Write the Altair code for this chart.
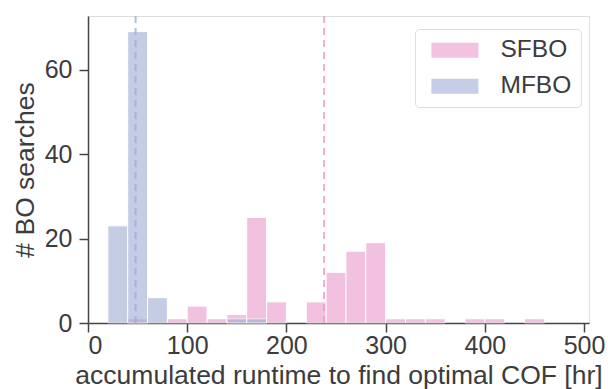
import altair as alt
import pandas as pd

bin_starts = list(range(20, 500, 20))
sfbo_counts = [0, 1, 0, 1, 4, 1, 2, 25, 5, 0, 5, 12, 17, 19, 1, 1, 1, 0, 1, 1, 0, 1, 0, 0]
mfbo_counts = [23, 69, 6, 0, 0, 0, 1, 1, 0, 0, 0, 0, 0, 0, 0, 0, 0, 0, 0, 0, 0, 0, 0, 0]
series_names = ["SFBO", "MFBO"]
series_colors = ["#e999cb", "#a0acd5"]
median_values = [238, 48]
bin_width = 20

rows = []
for name, counts in zip(series_names, [sfbo_counts, mfbo_counts]):
    for s, c in zip(bin_starts, counts):
        if c > 0:
            rows.append({"series": name, "start": s, "end": s + bin_width, "count": c, "base": 0})
df = pd.DataFrame(rows)
med_df = pd.DataFrame({"series": series_names, "median": median_values})

FONT = "Liberation Sans"
TXT = "#3c3c3c"

xscale = alt.Scale(domain=[0, 505], nice=False, zero=False)
yscale = alt.Scale(domain=[0, 72.7], nice=False)
cscale = alt.Scale(domain=series_names, range=series_colors)

bars = alt.Chart(df).mark_bar(stroke="white", strokeWidth=1, opacity=0.6).encode(
    x=alt.X("start:Q", scale=xscale,
            axis=alt.Axis(values=[0, 100, 200, 300, 400, 500], title="accumulated runtime to find optimal COF [hr]",
                          grid=False, tickSize=9, tickWidth=1.5, domainWidth=1.5,
                          domainColor="#444", tickColor="#444", labelColor=TXT, titleColor=TXT,
                          labelFont=FONT, titleFont=FONT, labelFontSize=25, titleFontSize=26.5,
                          titleFontWeight="normal", labelPadding=1, titlePadding=4)),
    x2="end:Q",
    y=alt.Y("count:Q", scale=yscale,
            axis=alt.Axis(values=[0, 20, 40, 60], title="# BO searches", grid=False,
                          tickSize=9, tickWidth=1.5, domainWidth=1.5,
                          domainColor="#444", tickColor="#444", labelColor=TXT, titleColor=TXT,
                          labelFont=FONT, titleFont=FONT, labelFontSize=25, titleFontSize=26.5,
                          titleFontWeight="normal", labelPadding=7, titlePadding=5)),
    y2="base:Q",
    color=alt.Color("series:N", scale=cscale, sort=series_names,
                    legend=alt.Legend(title=None, orient="none", legendX=327, legendY=13,
                                      symbolType="M-0.617,-0.96L5.383,-0.96L5.383,0.96L-0.617,0.96Z",
                                      symbolSize=245, symbolStrokeWidth=0, symbolOpacity=0.6,
                                      labelFont=FONT, labelFontSize=24.5, labelColor=TXT,
                                      labelExpr="datum.label + '\u00a0\u00a0'",
                                      labelOffset=52, padding=9, rowPadding=11,
                                      strokeColor="#dddddd", fillColor="white", cornerRadius=4)),
    order=alt.Order("series:N", sort="descending"),
)

rules = alt.Chart(med_df).mark_rule(strokeDash=[7, 5], strokeWidth=2, opacity=0.8).encode(
    x=alt.X("median:Q", scale=xscale),
    color=alt.Color("series:N", scale=cscale, legend=None),
)

chart = alt.layer(bars, rules).properties(
    width=501, height=307,
    autosize=alt.AutoSizeParams(type="none"),
    padding={"left": 88, "top": 16, "right": 19, "bottom": 66},
).configure_view(stroke=None).configure(background="white")

chart.save("out.html", embed_options={"renderer": "svg", "actions": False})
